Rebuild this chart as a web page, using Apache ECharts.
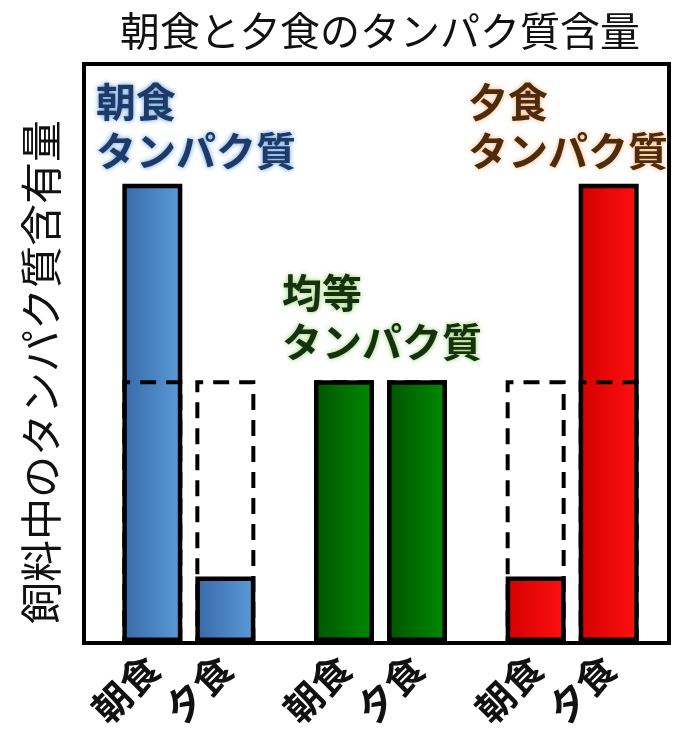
<!DOCTYPE html>
<html>
<head>
<meta charset="utf-8">
<script src="https://cdn.jsdelivr.net/npm/echarts@6/dist/echarts.min.js"></script>
<style>html,body{margin:0;padding:0;background:#fff;}#c{width:673px;height:731px;}</style>
</head>
<body>
<div id="c"></div>
<script>
// ---- data ----
const titleText = '朝食と夕食のタンパク質含量';
const yAxisTitle = '飼料中のタンパク質含有量';
const groups = ['朝食タンパク質', '均等タンパク質', '夕食タンパク質'];
const groupLabels = ['朝食\nタンパク質', '均等\nタンパク質', '夕食\nタンパク質'];
const mealNames = ['朝食', '夕食'];
const breakfast = [175, 100, 25];
const dinner = [25, 100, 175];
const equalLevel = [100, 100, 100];

// ---- styles ----
const FONT = '"Noto Sans CJK JP", "Noto Sans CJK SC", sans-serif';
function grad(a, b) {
  return new echarts.graphic.LinearGradient(0, 0, 1, 0, [{offset: 0, color: a}, {offset: 1, color: b}]);
}
const groupFill = [grad('#3769a8', '#5b9bd8'), grad('#005400', '#008a00'), grad('#d40000', '#ff1010')];
const labelStyles = [
  {fill: '#1f3968', shadow: '#5b9bd5', x: 96, y: 77},
  {fill: '#163010', shadow: '#8fd16a', x: 282, y: 268},
  {fill: '#4d2c0c', shadow: '#f4b183', x: 468, y: 77}
];

function mealSeries(name, values) {
  return {
    name: name, type: 'bar', xAxisIndex: 0, yAxisIndex: 0,
    barWidth: 60, barGap: '21.7%', z: 2,
    data: values.map((v, i) => ({
      value: v,
      itemStyle: {color: groupFill[i], borderColor: '#000', borderWidth: 4.5}
    })),
    label: {
      show: true, position: 'bottom', distance: 20, rotate: 45,
      align: 'right', verticalAlign: 'middle',
      formatter: name, fontFamily: FONT, fontSize: 38, fontWeight: 'bold', color: '#111'
    }
  };
}
function refSeries(name, values) {
  return {
    name: name + '-ref', type: 'bar', xAxisIndex: 1, yAxisIndex: 1,
    barWidth: 60, barGap: '21.7%', z: 5, silent: true,
    data: values,
    itemStyle: {color: 'rgba(0,0,0,0)', borderColor: '#000', borderWidth: 4, borderType: [16, 10]}
  };
}

const chart = echarts.init(document.getElementById('c'), null, {renderer: 'canvas'});
chart.setOption({
  animation: false,
  backgroundColor: '#fff',
  title: {
    text: titleText, left: 115, top: 6,
    textStyle: {fontFamily: FONT, fontSize: 40, fontWeight: 'normal', color: '#111'}
  },
  grid: [
    {left: 84, right: 4, top: 64, bottom: 88, show: true, borderColor: '#000', borderWidth: 4, backgroundColor: 'rgba(0,0,0,0)'},
    {left: 93, right: 5, top: 66, bottom: 89}
  ],
  xAxis: [
    {type: 'category', gridIndex: 1, data: groups, axisLine: {show: false}, axisTick: {show: false}, axisLabel: {show: false}},
    {type: 'category', gridIndex: 1, data: groups, show: false}
  ],
  yAxis: [
    {type: 'value', gridIndex: 1, min: 0, max: 220, show: false},
    {type: 'value', gridIndex: 1, min: 0, max: 220, show: false}
  ],
  graphic: groupLabels.map((t, i) => ({
    type: 'text', x: labelStyles[i].x, y: labelStyles[i].y, silent: true,
    style: {
      text: t, fontFamily: FONT, fontSize: 40, fontWeight: 'bold', lineHeight: 49,
      fill: labelStyles[i].fill, textShadowColor: labelStyles[i].shadow, textShadowBlur: 5
    }
  })).concat([{
    type: 'text', x: 41, y: 372, rotation: Math.PI / 2, silent: true,
    style: {
      text: yAxisTitle, fontFamily: FONT, fontSize: 42, fill: '#111',
      align: 'center', verticalAlign: 'middle'
    }
  }]),
  series: [
    mealSeries(mealNames[0], breakfast),
    mealSeries(mealNames[1], dinner),
    refSeries(mealNames[0], equalLevel),
    refSeries(mealNames[1], equalLevel)
  ]
});
</script>
</body>
</html>
